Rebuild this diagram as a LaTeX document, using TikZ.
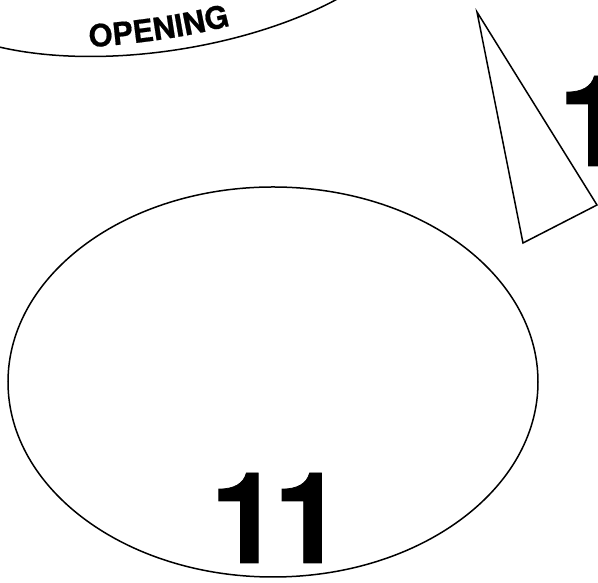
\documentclass[tikz,border=0pt]{standalone}
\usepackage{fontspec}
\setmainfont{TeX Gyre Heros}
\newfontfamily\heavyfont[FakeBold=0.6]{TeX Gyre Heros Bold}
\usetikzlibrary{decorations.text}

\begin{document}
\begin{tikzpicture}[
    x=1pt, y=1pt,
    outline/.style={line width=1.5pt, black},
    bignumber/.style={font=\heavyfont\fontsize{127}{127}\selectfont, inner sep=0pt, anchor=base west}
]
\useasboundingbox (0,0) rectangle (598,583);
\clip (0,0) rectangle (598,583);

% -------------------------
% OPENING ARC
% -------------------------
\draw[outline] (-5,537) .. controls (100,511) and (255,535) .. (348,590);
\path[decorate, decoration={text along path, text align=center,
    text={|\heavyfont\fontsize{31}{31}\selectfont|OPENING}}]
    (87,535.5) .. controls (135,539) and (184,545) .. (233,558);

% -------------------------
% TRIANGLE
% -------------------------
\draw[outline, line join=miter] (477,571) -- (597,378) -- (523,340) -- cycle;
\node[bignumber] (CutNumber) at (558,417) {1};

% -------------------------
% ELLIPSE
% -------------------------
\draw[outline] (273,201) ellipse [x radius=265, y radius=195];
\node[bignumber] (TableNumber) at (210,20) {1\kern-7.4pt 1};

\end{tikzpicture}
\end{document}
